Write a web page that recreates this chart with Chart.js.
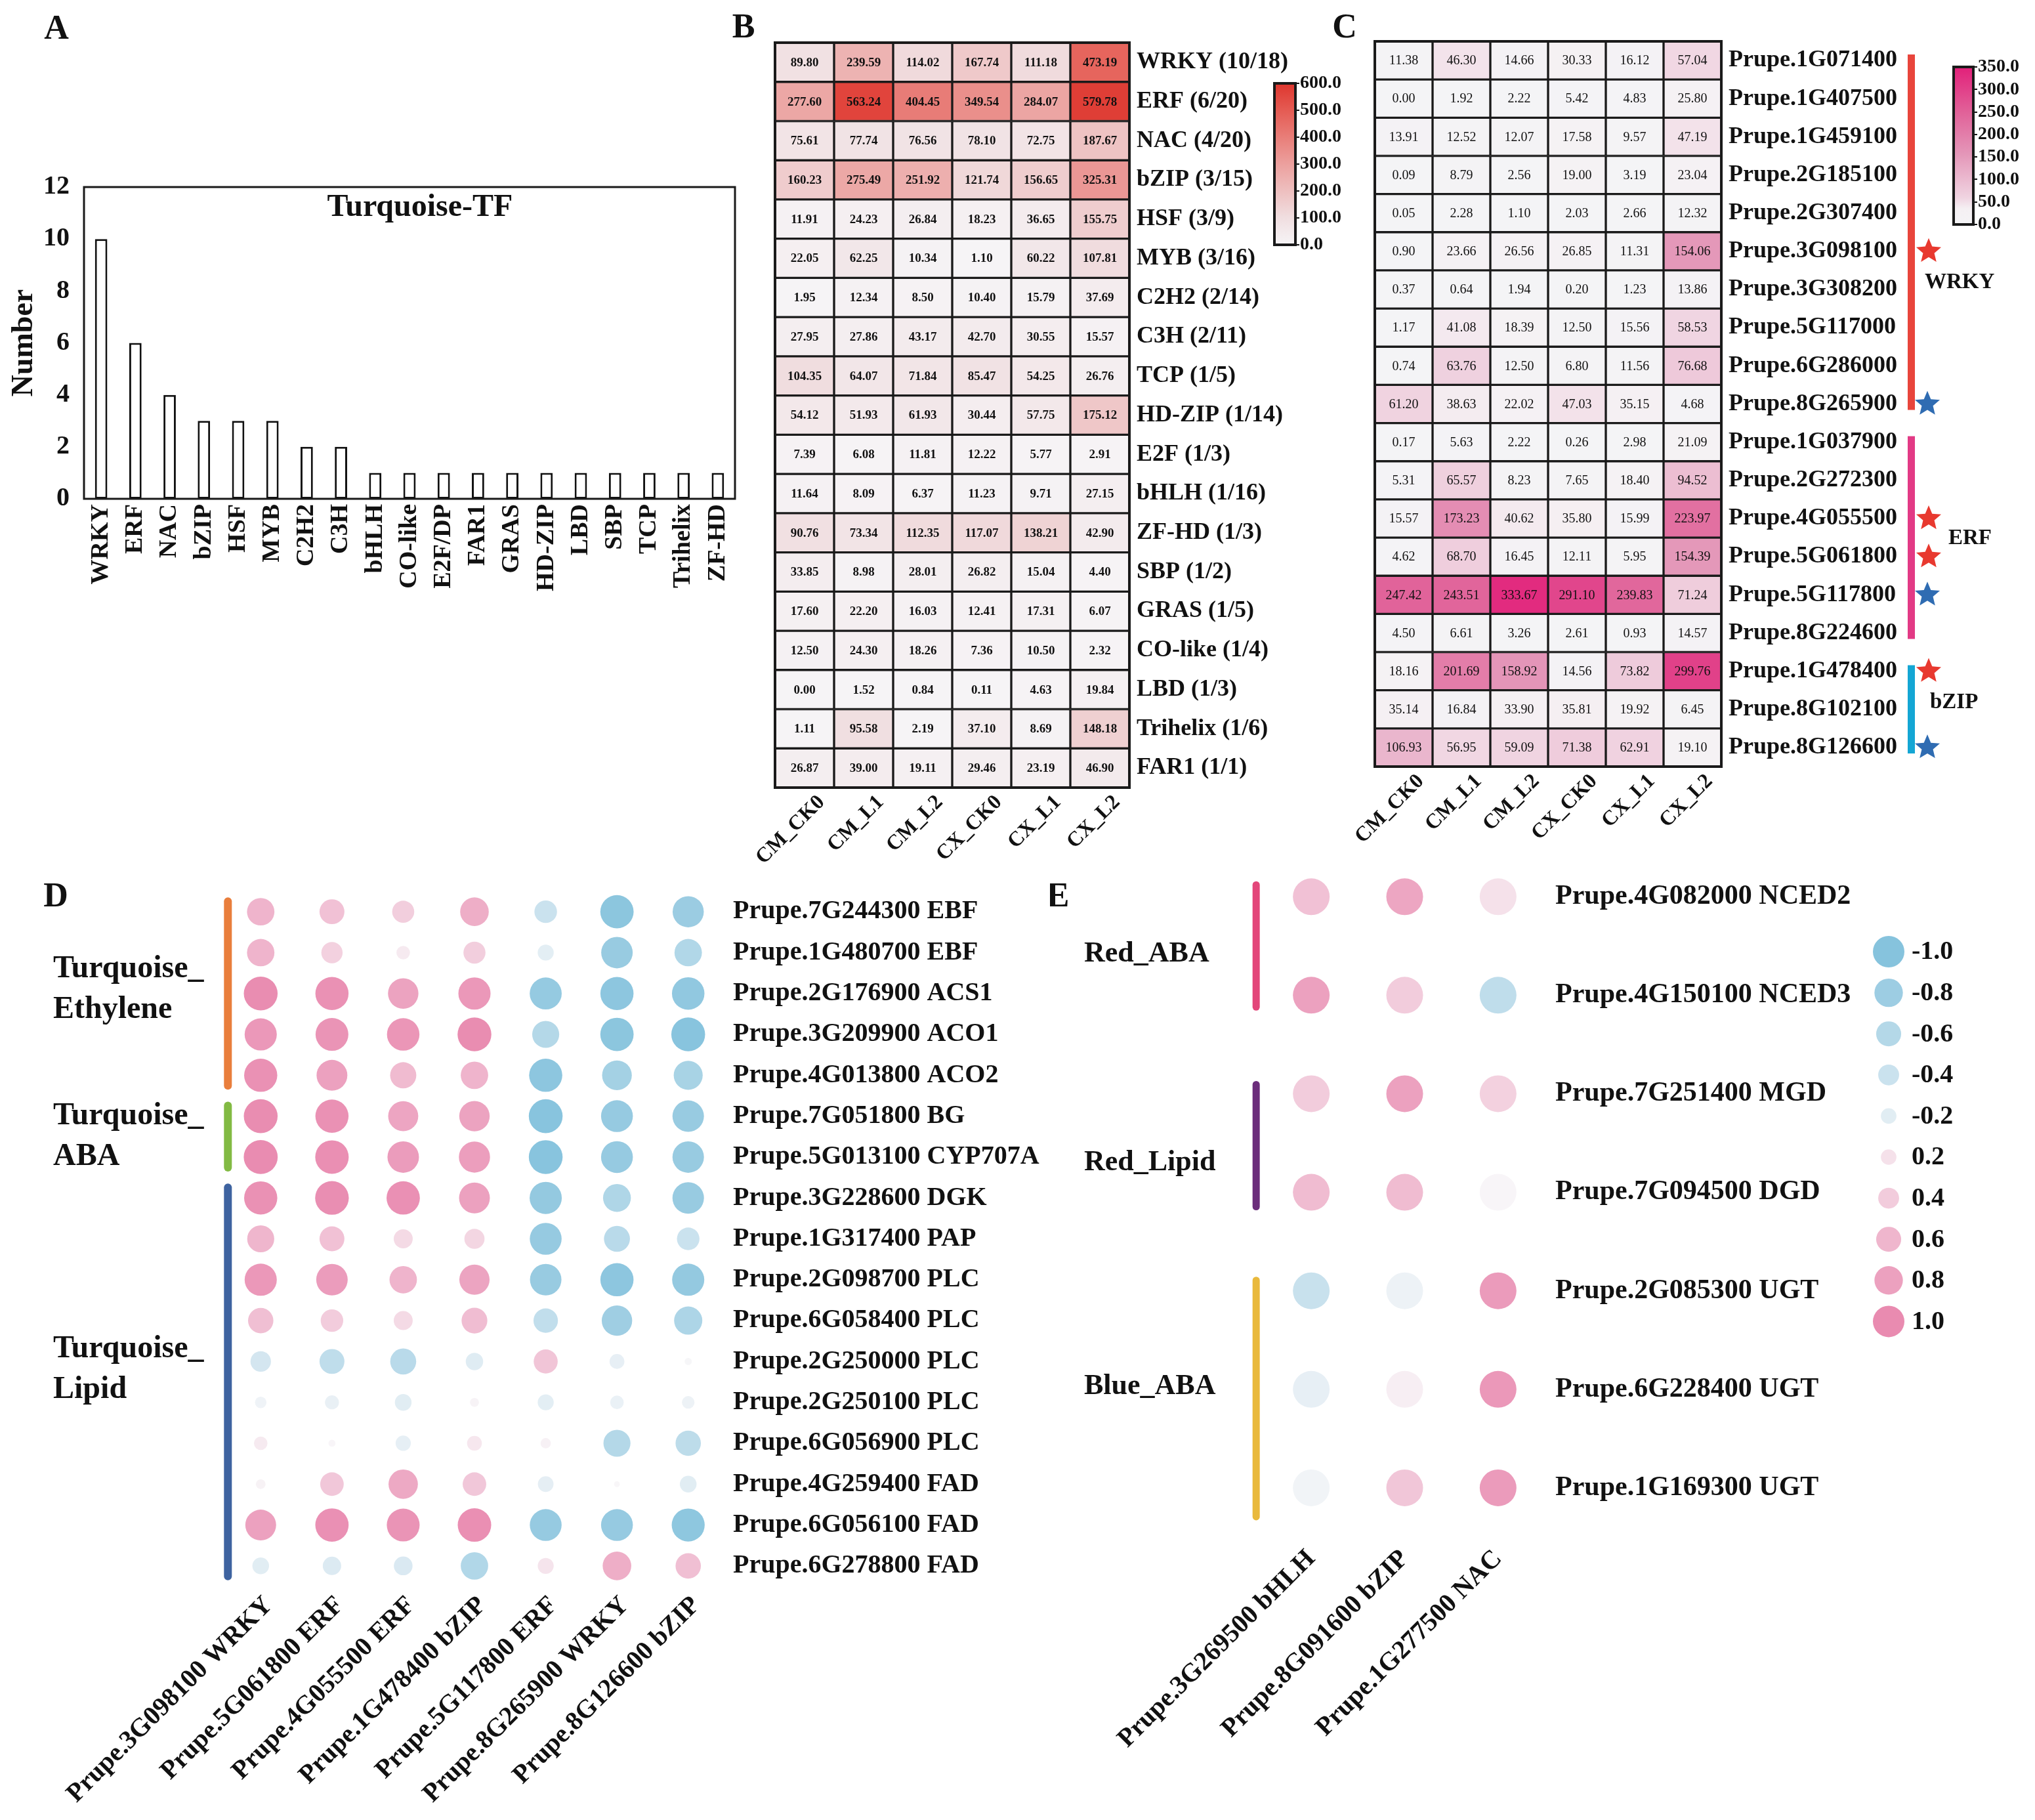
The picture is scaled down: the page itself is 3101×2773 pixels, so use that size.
<!DOCTYPE html>
<html>
<head>
<meta charset="utf-8">
<title>Turquoise TF modules</title>
<script src="https://cdn.jsdelivr.net/npm/chart.js@4.4.1/dist/chart.umd.min.js"></script>
<style>
  html, body { margin: 0; padding: 0; background: #fff; }
  body { position: relative; width: 3101px; height: 2773px; overflow: hidden; }
  canvas { position: absolute; }
</style>
</head>
<body>
<script>
// ---------- data ----------
const TF_FAMILIES = ['WRKY', 'ERF', 'NAC', 'bZIP', 'HSF', 'MYB', 'C2H2', 'C3H', 'bHLH', 'CO-like',
  'E2F/DP', 'FAR1', 'GRAS', 'HD-ZIP', 'LBD', 'SBP', 'TCP', 'Trihelix', 'ZF-HD'];
const TF_COUNTS = [10, 6, 4, 3, 3, 3, 2, 2, 1, 1, 1, 1, 1, 1, 1, 1, 1, 1, 1];

const SAMPLES = ['CM_CK0', 'CM_L1', 'CM_L2', 'CX_CK0', 'CX_L1', 'CX_L2'];

const B_ROWS = ['WRKY (10/18)', 'ERF (6/20)', 'NAC (4/20)', 'bZIP (3/15)', 'HSF (3/9)', 'MYB (3/16)',
  'C2H2 (2/14)', 'C3H (2/11)', 'TCP (1/5)', 'HD-ZIP (1/14)', 'E2F (1/3)', 'bHLH (1/16)', 'ZF-HD (1/3)',
  'SBP (1/2)', 'GRAS (1/5)', 'CO-like (1/4)', 'LBD (1/3)', 'Trihelix (1/6)', 'FAR1 (1/1)'];
const B_VALUES = [
  [89.80, 239.59, 114.02, 167.74, 111.18, 473.19],
  [277.60, 563.24, 404.45, 349.54, 284.07, 579.78],
  [75.61, 77.74, 76.56, 78.10, 72.75, 187.67],
  [160.23, 275.49, 251.92, 121.74, 156.65, 325.31],
  [11.91, 24.23, 26.84, 18.23, 36.65, 155.75],
  [22.05, 62.25, 10.34, 1.10, 60.22, 107.81],
  [1.95, 12.34, 8.50, 10.40, 15.79, 37.69],
  [27.95, 27.86, 43.17, 42.70, 30.55, 15.57],
  [104.35, 64.07, 71.84, 85.47, 54.25, 26.76],
  [54.12, 51.93, 61.93, 30.44, 57.75, 175.12],
  [7.39, 6.08, 11.81, 12.22, 5.77, 2.91],
  [11.64, 8.09, 6.37, 11.23, 9.71, 27.15],
  [90.76, 73.34, 112.35, 117.07, 138.21, 42.90],
  [33.85, 8.98, 28.01, 26.82, 15.04, 4.40],
  [17.60, 22.20, 16.03, 12.41, 17.31, 6.07],
  [12.50, 24.30, 18.26, 7.36, 10.50, 2.32],
  [0.00, 1.52, 0.84, 0.11, 4.63, 19.84],
  [1.11, 95.58, 2.19, 37.10, 8.69, 148.18],
  [26.87, 39.00, 19.11, 29.46, 23.19, 46.90]
];

const C_GENES = ['Prupe.1G071400', 'Prupe.1G407500', 'Prupe.1G459100', 'Prupe.2G185100', 'Prupe.2G307400',
  'Prupe.3G098100', 'Prupe.3G308200', 'Prupe.5G117000', 'Prupe.6G286000', 'Prupe.8G265900',
  'Prupe.1G037900', 'Prupe.2G272300', 'Prupe.4G055500', 'Prupe.5G061800', 'Prupe.5G117800',
  'Prupe.8G224600', 'Prupe.1G478400', 'Prupe.8G102100', 'Prupe.8G126600'];
const C_VALUES = [
  [11.38, 46.30, 14.66, 30.33, 16.12, 57.04],
  [0.00, 1.92, 2.22, 5.42, 4.83, 25.80],
  [13.91, 12.52, 12.07, 17.58, 9.57, 47.19],
  [0.09, 8.79, 2.56, 19.00, 3.19, 23.04],
  [0.05, 2.28, 1.10, 2.03, 2.66, 12.32],
  [0.90, 23.66, 26.56, 26.85, 11.31, 154.06],
  [0.37, 0.64, 1.94, 0.20, 1.23, 13.86],
  [1.17, 41.08, 18.39, 12.50, 15.56, 58.53],
  [0.74, 63.76, 12.50, 6.80, 11.56, 76.68],
  [61.20, 38.63, 22.02, 47.03, 35.15, 4.68],
  [0.17, 5.63, 2.22, 0.26, 2.98, 21.09],
  [5.31, 65.57, 8.23, 7.65, 18.40, 94.52],
  [15.57, 173.23, 40.62, 35.80, 15.99, 223.97],
  [4.62, 68.70, 16.45, 12.11, 5.95, 154.39],
  [247.42, 243.51, 333.67, 291.10, 239.83, 71.24],
  [4.50, 6.61, 3.26, 2.61, 0.93, 14.57],
  [18.16, 201.69, 158.92, 14.56, 73.82, 299.76],
  [35.14, 16.84, 33.90, 35.81, 19.92, 6.45],
  [106.93, 56.95, 59.09, 71.38, 62.91, 19.10]
];
const C_GROUP_NAMES = ['WRKY', 'ERF', 'bZIP'];
const C_GROUP_SIZES = [10, 6, 3];
const C_STAR_RED = ['Prupe.3G098100', 'Prupe.4G055500', 'Prupe.5G061800', 'Prupe.1G478400'];
const C_STAR_BLUE = ['Prupe.8G265900', 'Prupe.5G117800', 'Prupe.8G126600'];

const D_TFS = ['Prupe.3G098100 WRKY', 'Prupe.5G061800 ERF', 'Prupe.4G055500 ERF', 'Prupe.1G478400 bZIP',
  'Prupe.5G117800 ERF', 'Prupe.8G265900 WRKY', 'Prupe.8G126600 bZIP'];
const D_GENES = ['Prupe.7G244300 EBF', 'Prupe.1G480700 EBF', 'Prupe.2G176900 ACS1', 'Prupe.3G209900 ACO1',
  'Prupe.4G013800 ACO2', 'Prupe.7G051800 BG', 'Prupe.5G013100 CYP707A', 'Prupe.3G228600 DGK',
  'Prupe.1G317400 PAP', 'Prupe.2G098700 PLC', 'Prupe.6G058400 PLC', 'Prupe.2G250000 PLC',
  'Prupe.2G250100 PLC', 'Prupe.6G056900 PLC', 'Prupe.4G259400 FAD', 'Prupe.6G056100 FAD',
  'Prupe.6G278800 FAD'];
const D_CORR = [
  [0.62, 0.50, 0.38, 0.68, -0.40, -0.95, -0.82],
  [0.62, 0.35, 0.12, 0.38, -0.18, -0.84, -0.62],
  [0.98, 0.94, 0.78, 0.88, -0.87, -0.94, -0.90],
  [0.88, 0.92, 0.90, 0.98, -0.60, -0.95, -0.98],
  [0.94, 0.80, 0.56, 0.62, -0.94, -0.74, -0.70],
  [0.98, 0.94, 0.76, 0.78, -0.98, -0.86, -0.84],
  [0.99, 0.96, 0.84, 0.82, -0.98, -0.86, -0.84],
  [0.94, 0.97, 0.95, 0.80, -0.88, -0.64, -0.84],
  [0.60, 0.50, 0.27, 0.31, -0.86, -0.55, -0.40],
  [0.88, 0.84, 0.62, 0.77, -0.84, -0.94, -0.88],
  [0.52, 0.40, 0.27, 0.54, -0.48, -0.78, -0.66],
  [-0.32, -0.50, -0.55, -0.22, 0.46, -0.15, -0.02],
  [-0.08, -0.13, -0.20, 0.04, -0.18, -0.12, -0.10],
  [0.12, 0.02, -0.16, 0.15, 0.06, -0.60, -0.52],
  [0.05, 0.44, 0.72, 0.44, -0.17, 0.01, -0.20],
  [0.80, 0.95, 0.92, 0.96, -0.86, -0.86, -0.93],
  [-0.20, -0.25, -0.26, -0.62, 0.18, 0.68, 0.52]
];
const D_GROUP_NAMES = [['Turquoise_', 'Ethylene'], ['Turquoise_', 'ABA'], ['Turquoise_', 'Lipid']];
const D_GROUP_SIZES = [5, 2, 10];

const E_TFS = ['Prupe.3G269500 bHLH', 'Prupe.8G091600 bZIP', 'Prupe.1G277500 NAC'];
const E_GENES = ['Prupe.4G082000 NCED2', 'Prupe.4G150100 NCED3', 'Prupe.7G251400 MGD', 'Prupe.7G094500 DGD',
  'Prupe.2G085300 UGT', 'Prupe.6G228400 UGT', 'Prupe.1G169300 UGT'];
const E_CORR = [
  [0.50, 0.75, 0.20],
  [0.80, 0.40, -0.50],
  [0.40, 0.80, 0.35],
  [0.55, 0.55, 0.02],
  [-0.42, -0.10, 0.85],
  [-0.15, 0.08, 0.88],
  [-0.06, 0.45, 0.85]
];
const E_GROUP_NAMES = ['Red_ABA', 'Red_Lipid', 'Blue_ABA'];
const E_GROUP_SIZES = [2, 2, 3];
const LEGEND_VALUES = [-1.0, -0.8, -0.6, -0.4, -0.2, 0.2, 0.4, 0.6, 0.8, 1.0];

// ---------- styles ----------
const SERIF = "'Liberation Serif', 'Times New Roman', serif";
const B_STOPS = [[0, [246, 244, 246]], [0.17, [240, 222, 224]], [0.5, [236, 160, 158]], [0.83, [229, 92, 84]], [1, [222, 54, 46]]];
const C_STOPS = [[0, [244, 244, 246]], [0.1, [245, 240, 243]], [0.17, [240, 212, 225]], [0.45, [228, 150, 184]], [0.72, [225, 96, 152]], [1, [226, 32, 122]]];
const ZERO_COLOR = [248, 247, 249], NEG_COLOR = [134, 195, 221], POS_COLOR = [233, 139, 176];
const C_GROUP_STYLE = [
  { color: '#e8453c', labelDx: 310, labelRow: 6.31 },
  { color: '#e23a85', labelDx: 346, labelRow: 13.03 },
  { color: '#14a6d4', labelDx: 318, labelRow: 17.32 }
];
const D_GROUP_STYLE = [
  { color: '#e97e3c', labelRow: 1.9 },
  { color: '#82ba43', labelRow: 5.5 },
  { color: '#3e63a0', labelRow: 11.2 }
];
const E_GROUP_STYLE = [
  { color: '#e3467a', labelRow: 0.58, ext: [18, 18] },
  { color: '#6b2d7b', labelRow: 2.7, ext: [14, 22] },
  { color: '#e9b93c', labelRow: 4.97, ext: [16, 44] }
];

Chart.defaults.font.family = SERIF;
Chart.defaults.font.weight = 'bold';
Chart.defaults.color = '#111';
Chart.defaults.animation = false;
Chart.defaults.responsive = false;
Chart.defaults.events = [];
Chart.defaults.plugins.legend.display = false;
Chart.defaults.plugins.tooltip.enabled = false;

// ---------- helpers ----------
function makeCanvas(box) {
  const c = document.createElement('canvas');
  c.width = box[2];
  c.height = box[3];
  c.style.left = box[0] + 'px';
  c.style.top = box[1] + 'px';
  c.style.width = box[2] + 'px';
  c.style.height = box[3] + 'px';
  document.body.appendChild(c);
  return c;
}

// layout padding so that the chart area lands on `area` (page coords)
function padFor(box, area, ax) {
  return {
    left: area[0] - box[0] - (ax.left || 0),
    top: area[1] - box[1] - (ax.top || 0),
    right: box[0] + box[2] - area[2] - (ax.right || 0),
    bottom: box[1] + box[3] - area[3] - (ax.bottom || 0)
  };
}

function rgb(c) { return 'rgb(' + c.map(Math.round).join(',') + ')'; }

function mixStops(stops, t) {
  t = Math.max(0, Math.min(1, t));
  for (let i = 1; i < stops.length; i++) {
    if (t <= stops[i][0]) {
      const [t0, c0] = stops[i - 1], [t1, c1] = stops[i];
      const f = (t - t0) / (t1 - t0);
      return rgb(c0.map((c, k) => c + (c1[k] - c) * f));
    }
  }
  return rgb(stops[stops.length - 1][1]);
}

function corrColor(v) {
  const t = Math.min(1, Math.abs(v));
  const end = v < 0 ? NEG_COLOR : POS_COLOR;
  return rgb(ZERO_COLOR.map((c, k) => c + (end[k] - c) * t));
}

function groupStarts(sizes) {
  let s = 0;
  return sizes.map(n => { const from = s; s += n; return [from, s - 1]; });
}

function star(ctx, cx, cy, R, color) {
  ctx.beginPath();
  for (let i = 0; i < 10; i++) {
    const a = -Math.PI / 2 + i * Math.PI / 5;
    const r = i % 2 ? R * 0.45 : R;
    ctx.lineTo(cx + r * Math.cos(a), cy + r * Math.sin(a));
  }
  ctx.closePath();
  ctx.fillStyle = color;
  ctx.fill();
}

const noGrid = { display: false, drawTicks: false };
const noBorder = { display: false };

function letterPlugin(letter, box, pos) {
  return {
    id: 'letter' + letter,
    afterDraw(chart) {
      const ctx = chart.ctx;
      ctx.save();
      ctx.font = 'bold 52px ' + SERIF;
      ctx.fillStyle = '#111';
      ctx.textAlign = 'center';
      ctx.textBaseline = 'middle';
      ctx.fillText(letter, pos[0] - box[0], pos[1] - box[1]);
      ctx.restore();
    }
  };
}

function framePlugin(width) {
  return {
    id: 'frame',
    afterDraw(chart) {
      const a = chart.chartArea, ctx = chart.ctx;
      ctx.save();
      ctx.strokeStyle = '#1a1a1a';
      ctx.lineWidth = width;
      ctx.strokeRect(a.left, a.top, a.right - a.left, a.bottom - a.top);
      ctx.restore();
    }
  };
}

function cellTextPlugin(font) {
  return {
    id: 'cellText',
    afterDatasetsDraw(chart) {
      const ctx = chart.ctx;
      ctx.save();
      ctx.font = font;
      ctx.fillStyle = '#111';
      ctx.textAlign = 'center';
      ctx.textBaseline = 'middle';
      chart.data.datasets.forEach((ds, i) => {
        chart.getDatasetMeta(i).data.forEach((bar, j) => {
          ctx.fillText(ds.values[j].toFixed(2), bar.x, (bar.y + bar.base) / 2 + 1);
        });
      });
      ctx.restore();
    }
  };
}

function heatmap(box, area, rows, values, stops, vmax, labelWidth, cellFont, extra) {
  const datasets = rows.map((name, r) => ({
    label: name,
    data: SAMPLES.map(() => [r, r + 1]),
    values: values[r],
    backgroundColor: values[r].map(v => mixStops(stops, v / vmax)),
    borderColor: '#1a1a1a',
    borderWidth: 2,
    borderSkipped: false,
    barPercentage: 1,
    categoryPercentage: 1,
    grouped: false
  }));
  return new Chart(makeCanvas(box), {
    type: 'bar',
    data: { labels: SAMPLES, datasets: datasets },
    options: {
      layout: { padding: padFor(box, area, { right: labelWidth, bottom: 130 }) },
      scales: {
        x: {
          grid: noGrid, border: noBorder,
          ticks: { minRotation: 45, maxRotation: 45, autoSkip: false, padding: 4, labelOffset: 26, font: { size: 32 } },
          afterFit: s => { s.height = 130; }
        },
        y: {
          position: 'right', min: 0, max: rows.length, reverse: true,
          grid: noGrid, border: noBorder,
          afterBuildTicks: s => { s.ticks = rows.map((_, i) => ({ value: i + 0.5 })); },
          ticks: { autoSkip: false, padding: 11, font: { size: 36 }, callback: v => rows[Math.floor(v)] },
          afterFit: s => { s.width = labelWidth; }
        }
      }
    },
    plugins: [cellTextPlugin(cellFont), framePlugin(4)].concat(extra)
  });
}

function colorbar(box, area, vmax, step, stops) {
  return new Chart(makeCanvas(box), {
    type: 'bar',
    data: {
      labels: [''],
      datasets: [{
        data: [[0, vmax]],
        barPercentage: 1, categoryPercentage: 1, borderWidth: 0,
        backgroundColor: c => {
          const a = c.chart.chartArea;
          if (!a) return 'transparent';
          const g = c.chart.ctx.createLinearGradient(0, a.bottom, 0, a.top);
          stops.forEach(([t, col]) => g.addColorStop(t, rgb(col)));
          return g;
        }
      }]
    },
    options: {
      layout: { padding: padFor(box, area, { right: 100 }) },
      scales: {
        x: { display: false },
        y: {
          position: 'right', min: 0, max: vmax,
          grid: { display: true, drawOnChartArea: false, drawTicks: true, tickLength: 6, color: '#111', lineWidth: 2 },
          border: noBorder,
          ticks: { stepSize: step, autoSkip: false, padding: 1, font: { size: 28 }, callback: v => v.toFixed(1) },
          afterFit: s => { s.width = 100; }
        }
      }
    },
    plugins: [framePlugin(4)]
  });
}

// ---------- A: bar chart ----------
const boxA = [0, 0, 1160, 1000], areaA = [128, 285, 1120, 760];
new Chart(makeCanvas(boxA), {
  type: 'bar',
  data: {
    labels: TF_FAMILIES,
    datasets: [{
      data: TF_COUNTS, backgroundColor: '#fff', borderColor: '#111', borderWidth: 3,
      borderSkipped: false, barPercentage: 0.36, categoryPercentage: 1
    }]
  },
  options: {
    layout: { padding: padFor(boxA, areaA, { left: 118, bottom: 200 }) },
    scales: {
      x: {
        grid: noGrid, border: noBorder,
        ticks: { minRotation: 90, maxRotation: 90, autoSkip: false, padding: 8, font: { size: 38 } },
        afterFit: s => { s.height = 200; }
      },
      y: {
        min: 0, max: 12, grid: noGrid, border: noBorder,
        ticks: { stepSize: 2, padding: 22, font: { size: 40 } },
        title: { display: true, text: 'Number', font: { size: 46 }, padding: 0 },
        afterFit: s => { s.width = 118; }
      }
    }
  },
  plugins: [framePlugin(3), {
    id: 'innerTitle',
    afterDraw(chart) {
      const a = chart.chartArea, ctx = chart.ctx;
      ctx.save();
      ctx.font = 'bold 48px ' + SERIF;
      ctx.fillStyle = '#111';
      ctx.textAlign = 'center';
      ctx.textBaseline = 'middle';
      ctx.fillText('Turquoise-TF', (a.left + a.right) / 2 + 16, a.top + 32);
      ctx.restore();
    }
  }, letterPlugin('A', boxA, [86, 46])]
});

// ---------- B: TF family heatmap ----------
const boxB = [1100, 0, 1000, 1330];
heatmap(boxB, [1181, 65, 1721, 1200], B_ROWS, B_VALUES, B_STOPS, 600, 270,
  'bold 19px ' + SERIF, [letterPlugin('B', boxB, [1133, 44])]);
colorbar([1900, 90, 200, 320], [1942, 127, 1974, 373], 600, 100, B_STOPS);

// ---------- C: gene heatmap ----------
const boxC = [2000, 0, 1101, 1330];
const cGroups = {
  id: 'cGroups',
  afterDraw(chart) {
    const y = chart.scales.y, a = chart.chartArea, ctx = chart.ctx;
    ctx.save();
    groupStarts(C_GROUP_SIZES).forEach(([from, to], k) => {
      const st = C_GROUP_STYLE[k];
      const top = y.getPixelForValue(from) + 20, bot = y.getPixelForValue(to + 1) - 20;
      ctx.fillStyle = st.color;
      ctx.fillRect(a.right + 284, top, 11, bot - top);
      ctx.font = 'bold 33px ' + SERIF;
      ctx.fillStyle = '#111';
      ctx.textAlign = 'left';
      ctx.textBaseline = 'middle';
      ctx.fillText(C_GROUP_NAMES[k], a.right + st.labelDx, y.getPixelForValue(st.labelRow));
    });
    C_STAR_RED.forEach(g => star(ctx, a.right + 316, y.getPixelForValue(C_GENES.indexOf(g) + 0.5), 20, '#e8392f'));
    C_STAR_BLUE.forEach(g => star(ctx, a.right + 314, y.getPixelForValue(C_GENES.indexOf(g) + 0.5), 20, '#2f6cb2'));
    ctx.restore();
  }
};
heatmap(boxC, [2095, 63, 2623, 1168], C_GENES, C_VALUES, C_STOPS, 350, 300,
  '20px ' + SERIF, [cGroups, letterPlugin('C', boxC, [2049, 44])]);
colorbar([2940, 80, 161, 300], [2977, 102, 3007, 342], 350, 50, C_STOPS);

// ---------- D: correlation dots ----------
const boxD = [0, 1320, 1640, 1453], areaD = [343, 1348.6, 1103, 2417];
const dPoints = [];
D_CORR.forEach((row, r) => row.forEach((v, c) => {
  dPoints.push({ x: D_TFS[c], y: D_GENES[r], r: 2 + 24 * Math.sqrt(Math.abs(v)), v: v });
}));
const dGroups = {
  id: 'dGroups',
  afterDraw(chart) {
    const x = chart.scales.x, y = chart.scales.y, ctx = chart.ctx;
    const bx = x.getPixelForValue(0) - 50;
    ctx.save();
    groupStarts(D_GROUP_SIZES).forEach(([from, to], k) => {
      const st = D_GROUP_STYLE[k];
      ctx.strokeStyle = st.color;
      ctx.lineWidth = 12;
      ctx.lineCap = 'round';
      ctx.beginPath();
      ctx.moveTo(bx, y.getPixelForValue(from) - 16);
      ctx.lineTo(bx, y.getPixelForValue(to) + 16);
      ctx.stroke();
      ctx.font = 'bold 48px ' + SERIF;
      ctx.fillStyle = '#111';
      ctx.textAlign = 'left';
      ctx.textBaseline = 'middle';
      const cy = y.getPixelForValue(st.labelRow);
      ctx.fillText(D_GROUP_NAMES[k][0], 81 - boxD[0], cy - 31);
      ctx.fillText(D_GROUP_NAMES[k][1], 81 - boxD[0], cy + 31);
    });
    ctx.restore();
  }
};
new Chart(makeCanvas(boxD), {
  type: 'bubble',
  data: { datasets: [{ data: dPoints, backgroundColor: dPoints.map(p => corrColor(p.v)), borderWidth: 0 }] },
  options: {
    layout: { padding: padFor(boxD, areaD, { right: 520, bottom: 340 }) },
    scales: {
      x: {
        type: 'category', labels: D_TFS, offset: true, grid: noGrid, border: noBorder,
        ticks: { minRotation: 45, maxRotation: 45, autoSkip: false, padding: 6, labelOffset: 12, font: { size: 40 } },
        afterFit: s => { s.height = 340; }
      },
      y: {
        type: 'category', labels: D_GENES, offset: true, position: 'right', grid: noGrid, border: noBorder,
        ticks: { autoSkip: false, padding: 14, font: { size: 40 } },
        afterFit: s => { s.width = 520; }
      }
    }
  },
  plugins: [dGroups, letterPlugin('D', boxD, [85, 1368])]
});

// ---------- E: correlation dots + legend ----------
const boxE = [1600, 1250, 1501, 1523], areaE = [1927, 1291, 2354, 2342];
const ePoints = [];
E_CORR.forEach((row, r) => row.forEach((v, c) => {
  ePoints.push({ x: E_TFS[c], y: E_GENES[r], r: 28, v: v });
}));
const eExtras = {
  id: 'eExtras',
  afterDraw(chart) {
    const x = chart.scales.x, y = chart.scales.y, ctx = chart.ctx;
    const bx = x.getPixelForValue(0) - 84;
    ctx.save();
    groupStarts(E_GROUP_SIZES).forEach(([from, to], k) => {
      const st = E_GROUP_STYLE[k];
      ctx.strokeStyle = st.color;
      ctx.lineWidth = 11;
      ctx.lineCap = 'round';
      ctx.beginPath();
      ctx.moveTo(bx, y.getPixelForValue(from) - st.ext[0]);
      ctx.lineTo(bx, y.getPixelForValue(to) + st.ext[1]);
      ctx.stroke();
      ctx.font = 'bold 44px ' + SERIF;
      ctx.fillStyle = '#111';
      ctx.textAlign = 'left';
      ctx.textBaseline = 'middle';
      ctx.fillText(E_GROUP_NAMES[k], 1652 - boxE[0], y.getPixelForValue(st.labelRow));
    });
    // size/colour key
    LEGEND_VALUES.forEach((v, k) => {
      const cx = 2878 - boxE[0], cy = 1450 - boxE[1] + k * 62.6;
      ctx.beginPath();
      ctx.arc(cx, cy, 2 + 22 * Math.sqrt(Math.abs(v)), 0, Math.PI * 2);
      ctx.fillStyle = corrColor(v);
      ctx.fill();
      ctx.font = 'bold 40px ' + SERIF;
      ctx.fillStyle = '#111';
      ctx.textAlign = 'left';
      ctx.textBaseline = 'middle';
      ctx.fillText(v.toFixed(1), cx + 35, cy + 1);
    });
    ctx.restore();
  }
};
new Chart(makeCanvas(boxE), {
  type: 'bubble',
  data: { datasets: [{ data: ePoints, backgroundColor: ePoints.map(p => corrColor(p.v)), borderWidth: 0 }] },
  options: {
    layout: { padding: padFor(boxE, areaE, { right: 520, bottom: 380 }) },
    scales: {
      x: {
        type: 'category', labels: E_TFS, offset: true, grid: noGrid, border: noBorder,
        ticks: { minRotation: 45, maxRotation: 45, autoSkip: false, padding: 10, font: { size: 40 } },
        afterFit: s => { s.height = 380; }
      },
      y: {
        type: 'category', labels: E_GENES, offset: true, position: 'right', grid: noGrid, border: noBorder,
        ticks: { autoSkip: false, padding: 16, font: { size: 42 } },
        afterFit: s => { s.width = 520; }
      }
    }
  },
  plugins: [eExtras, letterPlugin('E', boxE, [1612, 1368])]
});
</script>
</body>
</html>
